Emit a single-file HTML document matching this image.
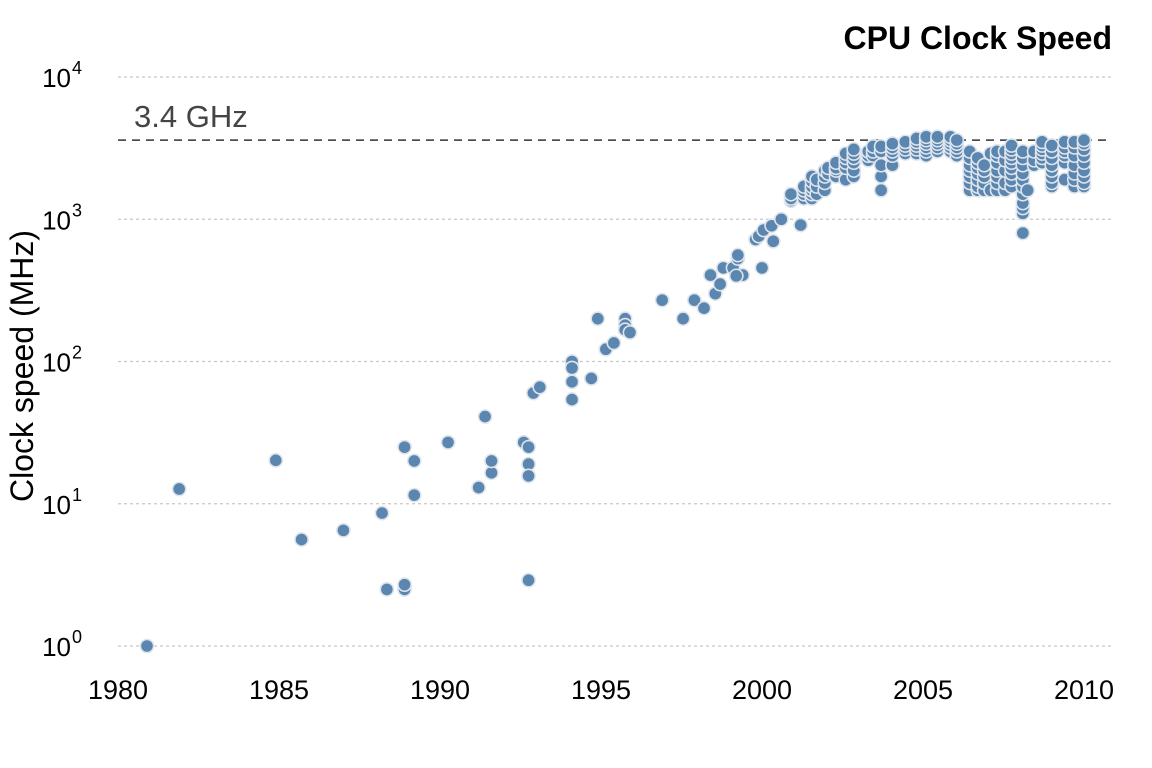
<!DOCTYPE html>
<html><head><meta charset="utf-8"><style>
body{margin:0;background:#fff;}
svg{display:block;font-family:"Liberation Sans",sans-serif;}
</style></head><body>
<svg id="chart" width="1152" height="768" viewBox="0 0 1152 768">
<text x="1112" y="49" text-anchor="end" font-size="32" font-weight="bold" fill="#000">CPU Clock Speed</text>
<text transform="translate(33,366) rotate(-90)" text-anchor="middle" font-size="32" fill="#000">Clock speed (MHz)</text>
<g id="grid"></g><g id="ref"></g><g id="pts"></g><g id="xt"></g><g id="yt"></g>
</svg>
<script>
const years=[1980.9,1981.9,1984.9,1985.7,1987.0,1988.2,1988.35,1988.9,1988.9,1988.9,1989.2,1989.2,1990.25,1991.2,1991.4,1991.6,1991.6,1992.6,1992.75,1992.75,1992.75,1992.75,1992.9,1993.1,1994.1,1994.1,1994.1,1994.1,1994.7,1994.9,1995.15,1995.4,1995.75,1995.75,1995.75,1995.9,1996.9,1997.55,1997.9,1998.2,1998.4,1998.55,1998.7,1998.8,1999.1,1999.25,1999.25,1999.4,1999.2,1999.8,1999.9,2000.05,2000.0,2000.3,2000.35,2000.6];
const mhz=[1,12.7,20.2,5.6,6.5,8.6,2.5,2.5,2.7,25,20,11.5,27,13,41,16.5,20,27,25,19,15.7,2.9,60,66,100,90,72,54,76,200,122,135,200,180,167,160,270,200,270,237,405,300,350,455,455,530,560,405,400,720,760,840,455,900,700,1000];
const stackYears=[2000.9,2001.2,2001.3,2001.55,2001.7,2001.95,2002.05,2002.3,2002.6,2002.85,2003.3,2003.45,2003.7,2004.05,2004.45,2004.8,2005.1,2005.45,2005.85,2006.05,2006.45,2006.7,2006.9,2007.1,2007.3,2007.55,2007.75,2008.1,2008.25,2008.45,2008.7,2009.0,2009.4,2009.7,2010.0];
const stackMhz=[[1500,1400,1350],[910],[1700,1600,1500,1400],[2000,1850,1700,1600,1500,1400],[1900,1700,1500],[2200,2000,1800,1600],[2300,2100],[2500,2300,2200,2000],[2900,2700,2500,2300,1900],[3100,2900,2700,2500,2200,2000],[3000,2800,2600],[3250,3000,2800],[3250,3000,2400,2000,1600],[3400,3200,3000,2800,2400],[3500,3300,3100,2900],[3700,3500,3300,3100,2900],[3800,3600,3400,3200,3000,2800],[3800,3600,3400,3200,3000],[3800,3600,3400,3200,3000],[3600,3400,3200,3000,2800],[3000,2700,2400,2200,2000,1800,1600],[2700,2500,2300,2100,1900,1700,1600],[2400,2200,2000,1800,1600],[2900,1600],[3000,2800,2500,2200,2000,1800,1600],[3000,2600,2200,1800,1600],[3300,3100,2900,2700,2500,2300,2100,1900,1700],[3000,2700,2400,2100,1900,1700,1500,1300,1200,1100,800],[1600],[3000,2600,2400],[3500,3300,3100,2900,2700,2500],[3300,3000,2700,2400,2200,2000,1800,1700],[3500,3200,3000,2800,2500,1900],[3500,3200,2800,2400,2100,1900,1700],[3600,3400,3100,2800,2500,2200,2000,1800,1700]];
const xTicks=[1980,1985,1990,1995,2000,2005,2010];
const yExps=[0,1,2,3,4];
const refLine=3600;
const refLabel="3.4 GHz";

const NS="http://www.w3.org/2000/svg";
const X=v=>118+(v-1980)*(1084-118)/30;
const Y=v=>646-Math.log10(v)*142.25;
function mk(tag,attrs,parent){const e=document.createElementNS(NS,tag);for(const k in attrs)e.setAttribute(k,attrs[k]);parent.appendChild(e);return e;}
const grid=document.getElementById('grid'),yt=document.getElementById('yt'),xt=document.getElementById('xt'),ref=document.getElementById('ref'),pts=document.getElementById('pts');
yExps.forEach(p=>{
  const y=Y(Math.pow(10,p));
  const l=mk('line',{x1:118,x2:1112,y1:y,y2:y,stroke:'#c8c8c8','stroke-width':1.2,'stroke-dasharray':'3,3'},grid);
  
  
  const t=mk('text',{x:82,y:y+10,'text-anchor':'end','font-size':26,fill:'#000'},yt);
  
  
  t.textContent='10';
  const s=mk('tspan',{dx:1,dy:-13,'font-size':18},t);s.textContent=p;
});
xTicks.forEach(v=>{
  const t=mk('text',{x:X(v),y:699,'text-anchor':'middle','font-size':27,fill:'#000'},xt);
  
  
  t.textContent=v;
});
const rl=mk('line',{x1:118,x2:1112,y1:Y(refLine),y2:Y(refLine),stroke:'#333','stroke-width':1.5,'stroke-dasharray':'8,6'},ref);


const rt=mk('text',{x:134,y:Y(refLine)-13,'font-size':31,fill:'#444'},ref);


rt.textContent=refLabel;
function dot(yr,v){
  const c=mk('circle',{cx:X(yr),cy:Y(v),r:6.6,fill:'#5b86b0',stroke:'#dfe5ec','stroke-width':1.6},pts);
  
  
}
years.forEach((yr,i)=>dot(yr,mhz[i]));
stackYears.forEach((yr,i)=>stackMhz[i].slice().reverse().forEach(v=>dot(yr,v)));
</script>
</body></html>
